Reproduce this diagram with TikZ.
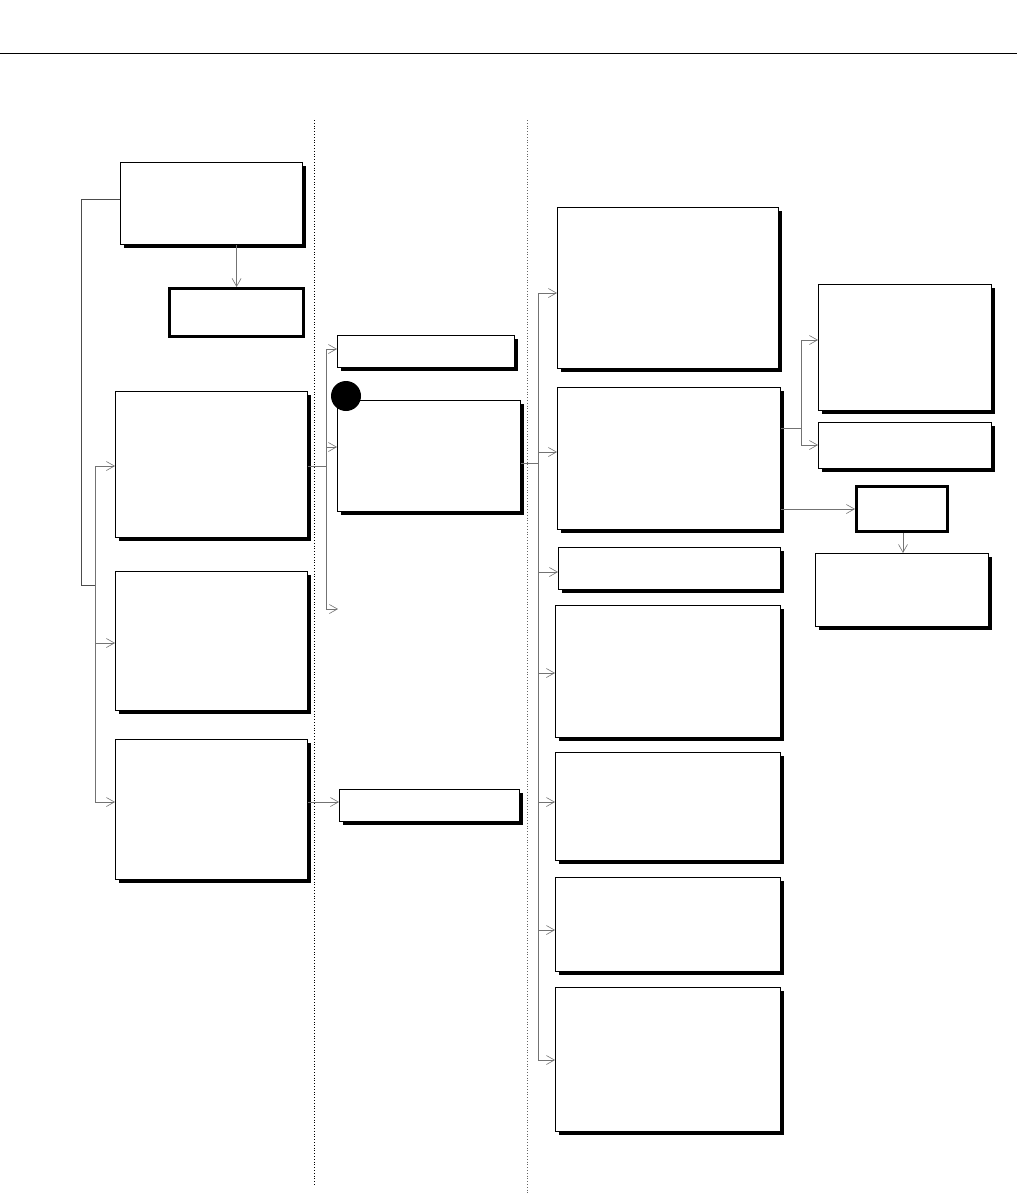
\documentclass[tikz,border=0pt]{standalone}
\usetikzlibrary{arrows.meta,shadows}
\begin{document}
\begin{tikzpicture}[x=1pt,y=-1pt,
  box/.style={draw, line width=1pt, fill=white, inner sep=0pt, anchor=north west,
    drop shadow={shadow xshift=3pt, shadow yshift=-3pt, fill=black, opacity=1}},
  thickbox/.style={draw, line width=3.2pt, fill=white, inner sep=0pt, anchor=north west},
  conn/.style={draw=black!55, line width=0.8pt},
  arr/.style={conn, -{Straight Barb[length=8pt,width=9pt,line width=0.6pt]}},
  sep/.style={dotted, line width=0.8pt}]
\useasboundingbox (0,0) rectangle (1017,1195);
% rule and column separators
\draw[line width=1pt] (0,53) -- (1017,53);
\draw[sep] (314,120) -- (314,1185);
\draw[sep, black!60] (527,120) -- (527,1195);
% left column
\node[box, minimum width=182pt, minimum height=82pt] (A) at (120,162) {};
\node[thickbox, minimum width=134pt, minimum height=48pt] (B) at (168,287) {};
\node[box, minimum width=192pt, minimum height=146pt] (C) at (115,391) {};
\node[box, minimum width=192pt, minimum height=139pt] (D) at (115,571) {};
\node[box, minimum width=192pt, minimum height=140pt] (E) at (115,739) {};
% middle column
\node[box, minimum width=177pt, minimum height=32pt] (F) at (337,335) {};
\node[box, minimum width=183pt, minimum height=111pt] (G) at (337,400) {};
\node[circle, fill=black, minimum size=30pt, inner sep=0pt] (dot) at (346,396) {};
\node[box, minimum width=180pt, minimum height=32pt] (H) at (339,789) {};
% right column
\node[box, minimum width=221pt, minimum height=161pt] (I) at (557,207) {};
\node[box, minimum width=223pt, minimum height=142pt] (J) at (557,387) {};
\node[box, minimum width=222pt, minimum height=42pt] (K) at (558,547) {};
\node[box, minimum width=225pt, minimum height=132pt] (L) at (555,605) {};
\node[box, minimum width=225pt, minimum height=108pt] (M) at (555,752) {};
\node[box, minimum width=225pt, minimum height=94pt] (N) at (555,877) {};
\node[box, minimum width=225pt, minimum height=144pt] (O) at (555,987) {};
% far right
\node[box, minimum width=173pt, minimum height=126pt] (P) at (818,284) {};
\node[box, minimum width=173pt, minimum height=46pt] (Q) at (818,422) {};
\node[thickbox, minimum width=91pt, minimum height=45pt] (R) at (855,485) {};
\node[box, minimum width=173pt, minimum height=73pt] (S) at (815,553) {};
% bus coordinates
\coordinate (lj) at (81,585);
\coordinate (lb) at (95,585);
\coordinate (lbt) at (95,466);
\coordinate (lbb) at (95,802);
\coordinate (mbt) at (326,349);
\coordinate (mbb) at (326,609);
\coordinate (mfree) at (338,609);
\coordinate (rbt) at (538,293);
\coordinate (rbb) at (538,1060);
\coordinate (fbt) at (801,340);
\coordinate (fbb) at (801,445);
% connectors: left
\draw[conn, draw=black!70] (A.west |- 0,199) -| (lj) -- (lb);
\draw[conn] (lbt) -- (lbb);
\draw[arr] (lbt) -- (C.west |- lbt);
\draw[arr] (95,643) -- (D.west |- 0,643);
\draw[arr] (lbb) -- (E.west |- lbb);
\draw[arr] (B.north |- A.south) -- (B.north);
% connectors: middle
\draw[conn] (C.east |- 0,466) -- (326,466);
\draw[conn] (mbt) -- (mbb);
\draw[arr] (mbt) -- (F.west |- mbt);
\draw[arr] (326,447) -- (G.west |- 0,447);
\draw[arr] (mbb) -- (mfree);
\draw[arr] (E.east |- 0,802) -- (H.west |- 0,802);
% connectors: right
\draw[conn] (G.east |- 0,463) -- (538,463);
\draw[conn] (rbt) -- (rbb);
\draw[arr] (rbt) -- (I.west |- rbt);
\draw[arr] (538,452) -- (J.west |- 0,452);
\draw[arr] (538,572) -- (K.west |- 0,572);
\draw[arr] (538,673) -- (L.west |- 0,673);
\draw[arr] (538,802) -- (M.west |- 0,802);
\draw[arr] (538,930) -- (N.west |- 0,930);
\draw[arr] (rbb) -- (O.west |- rbb);
% connectors: far right
\draw[conn] (J.east |- 0,428) -- (801,428);
\draw[conn] (fbt) -- (fbb);
\draw[arr] (fbt) -- (P.west |- fbt);
\draw[arr] (fbb) -- (Q.west |- fbb);
\draw[arr] (J.east |- 0,509) -- (R.west |- 0,509);
\draw[arr] (R.south -| 903,0) -- (S.north -| 903,0);
\end{tikzpicture}
\end{document}
